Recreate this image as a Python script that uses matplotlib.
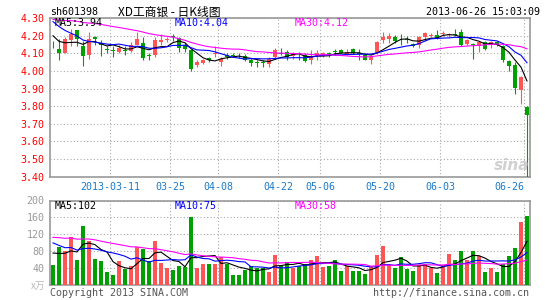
import numpy as np
import matplotlib.pyplot as plt

# daily K data, 2013-02-25 .. 2013-06-26 (80 trading days)
opens = [4.15, 4.125, 4.10, 4.175, 4.23, 4.14, 4.09, 4.195, 4.16, 4.125,
         4.12, 4.11, 4.12, 4.115, 4.15, 4.16, 4.09, 4.09, 4.165, 4.175,
         4.20, 4.185, 4.145, 4.12, 4.035, 4.045, 4.075, 4.095, 4.05, 4.09,
         4.09, 4.09, 4.085, 4.065, 4.05, 4.05, 4.04, 4.08, 4.10, 4.11,
         4.085, 4.09, 4.09, 4.06, 4.085, 4.085, 4.10, 4.11, 4.12, 4.095,
         4.125, 4.10, 4.09, 4.065, 4.10, 4.175, 4.18, 4.195, 4.17, 4.18,
         4.155, 4.145, 4.195, 4.20, 4.205, 4.21, 4.205, 4.21, 4.22, 4.155,
         4.155, 4.14, 4.165, 4.15, 4.165, 4.14, 4.055, 4.035, 3.89, 3.795]
highs = [4.17, 4.18, 4.19, 4.24, 4.235, 4.17, 4.22, 4.20, 4.175, 4.14,
         4.14, 4.15, 4.14, 4.165, 4.22, 4.19, 4.10, 4.19, 4.21, 4.19,
         4.21, 4.195, 4.16, 4.125, 4.06, 4.07, 4.08, 4.14, 4.08, 4.10,
         4.10, 4.10, 4.095, 4.075, 4.06, 4.06, 4.08, 4.13, 4.13, 4.12,
         4.11, 4.11, 4.10, 4.12, 4.12, 4.11, 4.11, 4.125, 4.125, 4.125,
         4.13, 4.125, 4.10, 4.09, 4.17, 4.22, 4.215, 4.205, 4.21, 4.20,
         4.16, 4.20, 4.22, 4.215, 4.235, 4.225, 4.215, 4.24, 4.24, 4.18,
         4.16, 4.17, 4.17, 4.17, 4.17, 4.145, 4.06, 4.05, 3.97, 3.80]
lows = [4.13, 4.06, 4.10, 4.14, 4.14, 4.03, 4.07, 4.15, 4.085, 4.10,
        4.08, 4.10, 4.09, 4.11, 4.145, 4.06, 4.06, 4.08, 4.15, 4.165,
        4.17, 4.11, 4.11, 4.00, 4.02, 4.04, 4.05, 4.08, 4.03, 4.07,
        4.08, 4.075, 4.055, 4.03, 4.02, 4.02, 4.02, 4.07, 4.09, 4.06,
        4.07, 4.06, 4.05, 4.04, 4.06, 4.08, 4.08, 4.09, 4.10, 4.09,
        4.095, 4.06, 4.06, 4.04, 4.095, 4.16, 4.16, 4.16, 4.15, 4.16,
        4.135, 4.13, 4.17, 4.19, 4.18, 4.20, 4.19, 4.20, 4.14, 4.15,
        4.07, 4.11, 4.12, 4.13, 4.14, 4.05, 4.00, 3.87, 3.815, 3.38]
closes = [4.145, 4.10, 4.18, 4.21, 4.18, 4.085, 4.18, 4.18, 4.145, 4.12,
          4.115, 4.13, 4.115, 4.145, 4.18, 4.075, 4.085, 4.175, 4.175, 4.18,
          4.19, 4.13, 4.125, 4.01, 4.05, 4.06, 4.065, 4.10, 4.07, 4.08,
          4.085, 4.088, 4.06, 4.045, 4.045, 4.048, 4.07, 4.12, 4.098, 4.08,
          4.10, 4.088, 4.055, 4.08, 4.10, 4.10, 4.098, 4.108, 4.10, 4.11,
          4.10, 4.098, 4.065, 4.08, 4.165, 4.195, 4.20, 4.17, 4.168, 4.178,
          4.14, 4.19, 4.215, 4.205, 4.185, 4.215, 4.21, 4.205, 4.15, 4.175,
          4.15, 4.165, 4.125, 4.165, 4.145, 4.065, 4.03, 3.905, 3.965, 3.75]
volumes = [48, 91, 81, 114, 59, 139, 105, 62, 57, 31,
           24, 57, 38, 45, 91, 85, 57, 105, 53, 41,
           36, 45, 44, 160, 41, 50, 50, 50, 66, 50,
           24, 24, 36, 45, 41, 41, 31, 71, 48, 55,
           41, 45, 50, 59, 69, 44, 45, 59, 34, 45,
           34, 34, 27, 44, 71, 92, 48, 41, 67, 38,
           34, 48, 50, 41, 29, 48, 74, 59, 81, 59,
           81, 69, 31, 41, 31, 50, 69, 88, 149, 163]

# days before the window, only used for the moving averages
prior_closes = [4.22, 4.25, 4.24, 4.27, 4.30, 4.28, 4.26, 4.29, 4.31, 4.30,
                4.28, 4.30, 4.33, 4.35, 4.32, 4.34, 4.36, 4.33, 4.31, 4.34,
                4.38, 4.40, 4.37, 4.33, 4.32, 4.26, 4.22, 4.20, 4.175]
prior_volumes = [110, 125, 95, 140, 130, 105, 118, 150, 122, 98,
                 135, 112, 128, 100, 145, 118, 108, 126, 115, 110,
                 150, 135, 110, 120, 105, 95, 80, 85, 72]

tick_idx = [10, 20, 28, 38, 45, 55, 65, 79]
tick_labels = ['2013-03-11', '03-25', '04-08', '04-22', '05-06', '05-20', '06-03', '06-26']
price_ticks = [4.30, 4.20, 4.10, 4.00, 3.90, 3.80, 3.70, 3.60, 3.50, 3.40]
vol_ticks = [40, 80, 120, 160, 200]

RED = '#ff5555'
GREEN = '#00a000'
MONO = 'DejaVu Sans Mono'
FS = 7.2


def ma(series, prior, n):
    full = np.r_[prior, series]
    return np.convolve(full, np.ones(n) / n, 'valid')[-len(series):]


o = np.array(opens); h = np.array(highs); l = np.array(lows); c = np.array(closes)
v = np.array(volumes)
x = np.arange(len(c))
up = c >= o
cols = np.where(up, RED, GREEN)

fig = plt.figure(figsize=(5.45, 3.0), dpi=100)
ax1 = fig.add_axes([50 / 545, 1 - 176.7 / 300, 480 / 545, 158.6 / 300])
ax2 = fig.add_axes([50 / 545, 1 - 285.3 / 300, 480 / 545, 84.8 / 300])

# candles
ax1.vlines(x, l, h, colors=cols, linewidth=0.8, zorder=3)
body = np.maximum(np.abs(c - o), 0.004)
ax1.bar(x, body, bottom=np.minimum(o, c), width=0.83, color=cols, linewidth=0, zorder=4)
ax1.plot(x, ma(c, prior_closes, 5), color='black', lw=0.8, zorder=5)
ax1.plot(x, ma(c, prior_closes, 10), color='#0000ff', lw=0.8, zorder=5)
ax1.plot(x, ma(c, prior_closes, 30), color='#ff00ff', lw=0.8, zorder=5)
ax1.set_ylim(3.40, 4.30)
ax1.set_yticks(price_ticks)
ax1.set_yticklabels(['%.2f' % p for p in price_ticks])

# volume
ax2.bar(x, v, width=0.83, color=cols, linewidth=0, zorder=3)
ax2.plot(x, ma(v, prior_volumes, 5), color='black', lw=0.8, zorder=5)
ax2.plot(x, ma(v, prior_volumes, 10), color='#0000ff', lw=0.8, zorder=5)
ax2.plot(x, ma(v, prior_volumes, 30), color='#ff00ff', lw=0.8, zorder=5)
ax2.set_ylim(0, 200)
ax2.set_yticks(vol_ticks)
ax2.set_yticklabels([str(t) for t in vol_ticks])

for ax in (ax1, ax2):
    ax.set_xlim(-0.5, 79.5)
    ax.set_xticks([i - 0.5 for i in tick_idx])
    ax.grid(True, color='#aaaaaa', linestyle=(0, (1, 2)), linewidth=0.8)
    ax.set_axisbelow(True)
    for s in ax.spines.values():
        s.set_color('#999999')
        s.set_linewidth(1.2)
    ax.tick_params(length=0, pad=4)
    for t in ax.get_yticklabels():
        t.set_fontfamily(MONO)
        t.set_fontsize(FS)

for t in ax1.get_yticklabels():
    t.set_color('#ff0000')
for t in ax2.get_yticklabels():
    t.set_color('#999999')

ax1.set_xticklabels(tick_labels, family=MONO, fontsize=FS, color='#1a7ac8')
ax1.get_xticklabels()[-1].set_horizontalalignment('right')
ax2.set_xticklabels([])

# titles and labels
fig.text(50 / 545, 1 - 12 / 300, 'sh601398', family=MONO, fontsize=FS, va='center')
fig.text(118 / 545, 1 - 12 / 300, 'XD工商银 - 日K线图', family=['Noto Sans CJK SC', 'DejaVu Sans'],
         fontsize=8.5, va='center')
fig.text(540 / 545, 1 - 12 / 300, '2013-06-26 15:03:09', family=MONO, fontsize=FS, va='center', ha='right')

for xp, txt, col in [(55, 'MA5:3.94', 'black'), (175, 'MA10:4.04', '#0000ff'), (295, 'MA30:4.12', '#ff00ff')]:
    fig.text(xp / 545, 1 - 23.5 / 300, txt, family=MONO, fontsize=FS, color=col, va='center', zorder=10)
for xp, txt, col in [(55, 'MA5:102', 'black'), (175, 'MA10:75', '#0000ff'), (295, 'MA30:58', '#ff00ff')]:
    fig.text(xp / 545, 1 - 206 / 300, txt, family=MONO, fontsize=FS, color=col, va='center', zorder=10)

fig.text(45 / 545, 1 - 286 / 300, 'x万', family=['Noto Sans CJK SC', 'DejaVu Sans'], fontsize=7,
         color='#bbbbbb', va='center', ha='right')
fig.text(50 / 545, 1 - 292.5 / 300, 'Copyright 2013 SINA.COM', family=MONO, fontsize=FS,
         color='#555555', va='center')
fig.text(529 / 545, 1 - 293 / 300, 'http://finance.sina.com.cn', family=MONO, fontsize=FS,
         color='#555555', va='center', ha='right')

# sina watermark
fig.text(512 / 545, 1 - 166 / 300, 'sina', fontsize=11, fontstyle='italic', fontweight='bold',
         color='#d0d0d0', va='center', ha='center')

fig.savefig('out.png', dpi=100, facecolor='white')
